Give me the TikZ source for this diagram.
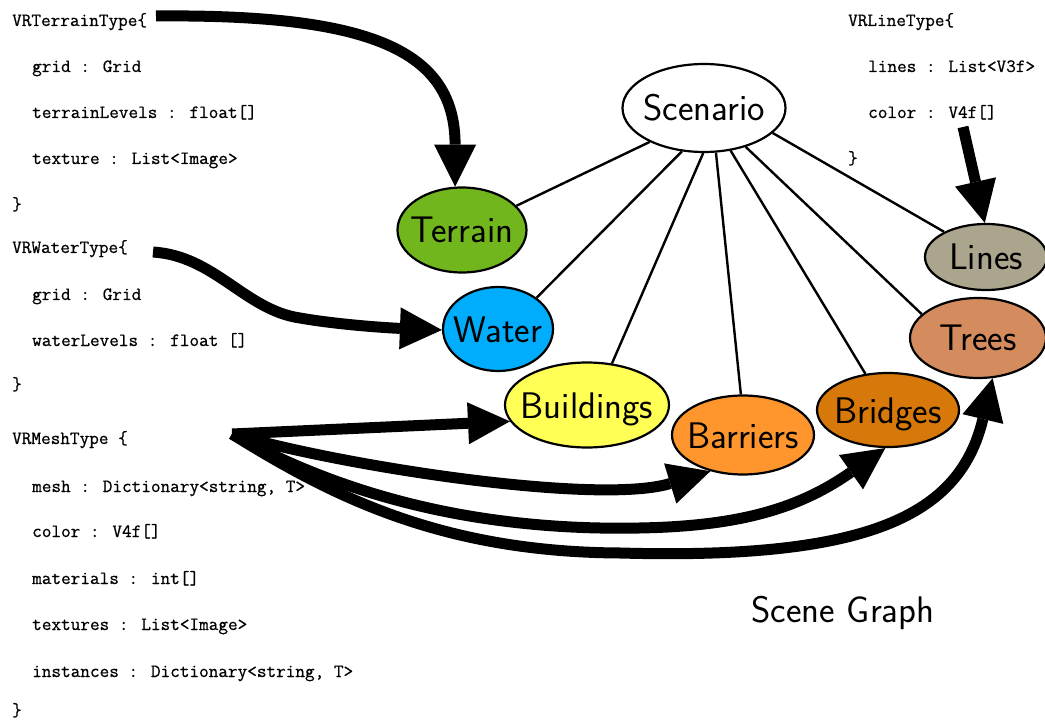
\documentclass[tikz,border=0pt]{standalone}
\usepackage{fontspec}
\newfontfamily\codefont{Latin Modern Mono}[FakeBold=0.7]
\usetikzlibrary{arrows.meta,shapes.geometric}

\definecolor{terraincol}{RGB}{113,182,28}
\definecolor{watercol}{RGB}{0,172,252}
\definecolor{buildcol}{RGB}{255,255,85}
\definecolor{barrcol}{RGB}{255,150,45}
\definecolor{bridgecol}{RGB}{215,120,10}
\definecolor{linescol}{RGB}{170,165,140}
\definecolor{treescol}{RGB}{212,140,95}

\begin{document}
\begin{tikzpicture}[x=1pt,y=-1pt,
  code/.style={anchor=base west, inner sep=0pt,
    font=\codefont\fontsize{18.7}{22}\selectfont},
  obj/.style={ellipse, draw=black, line width=2.2pt,
    inner xsep=-45pt, inner ysep=0pt, text height=26pt, text depth=0pt,
    font=\sffamily\fontsize{37}{40}\selectfont},
  edge/.style={line width=2.4pt},
  bigarrow/.style={line width=11pt,
    -{Triangle[length=42pt,width=42pt,line width=0pt]}}
]
\useasboundingbox[fill=white] (0,0) rectangle (1045,722);

% type declarations
\node[code] (tt0) at (12,26)  {VRTerrainType\{};
\node[code] (tt1) at (32,72)  {grid : Grid};
\node[code] (tt2) at (32,118) {terrainLevels : float[]};
\node[code] (tt3) at (32,164) {texture : List<Image>};
\node[code] (tt4) at (12,210) {\}};

\node[code] (wt0) at (12,253) {VRWaterType\{};
\node[code] (wt1) at (32,300) {grid : Grid};
\node[code] (wt2) at (32,346) {waterLevels : float []};
\node[code] (wt3) at (12,390) {\}};

\node[code] (mt0) at (12,444) {VRMeshType \{};
\node[code] (mt1) at (32,492) {mesh : Dictionary<string, T>};
\node[code] (mt2) at (32,537) {color : V4f[]};
\node[code] (mt3) at (32,584) {materials : int[]};
\node[code] (mt4) at (32,630) {textures : List<Image>};
\node[code] (mt5) at (32,677) {instances : Dictionary<string, T>};
\node[code] (mt6) at (12,716) {\}};

\node[code] (lt0) at (848,26)  {VRLineType\{};
\node[code] (lt1) at (868,72)  {lines : List<V3f>};
\node[code] (lt2) at (868,118) {color : V4f[]};
\node[code] (lt3) at (848,164) {\}};

% scene graph nodes
\node[obj, fill=white,      minimum width=163pt, minimum height=88pt] (scen)  at (704,108) {Scenario};
\node[obj, fill=terraincol, minimum width=129pt, minimum height=85pt] (terr)  at (462,230) {Terrain};
\node[obj, fill=watercol,   minimum width=110pt, minimum height=84pt] (water) at (498,329) {Water};
\node[obj, fill=buildcol,   minimum width=164pt, minimum height=85pt] (build) at (587,405) {Buildings};
\node[obj, fill=barrcol,    minimum width=142pt, minimum height=79pt] (barr)  at (743,435) {Barriers};
\node[obj, fill=bridgecol,  minimum width=142pt, minimum height=74pt] (bridg) at (888,410) {Bridges};
\node[obj, fill=linescol,   minimum width=122pt, minimum height=66pt] (lines) at (986,257) {Lines};
\node[obj, fill=treescol,   minimum width=136pt, minimum height=80pt] (trees) at (978,338) {Trees};

\node[font=\sffamily\fontsize{37}{40}\selectfont, inner sep=0pt] (title) at (843,613) {Scene Graph};

% hierarchy edges
\draw[edge] (scen.212) -- (terr.24);
\draw[edge] (scen.243) -- (water.39);
\draw[edge] (scen.269) -- (build.59);
\draw[edge] (scen.285) -- (barr.93);
\draw[edge] (scen.302) -- (bridg.122);
\draw[edge] (scen.317) -- (trees.157);
\draw[edge] (scen.340) -- (lines.149);

% type-to-node arrows
\coordinate (tstart) at (156,16);
\coordinate (wstart) at (153,252);
\coordinate (mstart) at (232,434);
\coordinate (lstart) at (963,127);

\draw[bigarrow] (tstart) .. controls (370,14) and (455,50) .. (terr.99);
\draw[bigarrow] (wstart) .. controls (215,256) and (245,310) .. (300,318)
  .. controls (340,325) and (390,328) .. (water.181);
\draw[bigarrow] (mstart) -- (build.192);
\draw[bigarrow] (mstart) .. controls (350,468) and (600,505) .. (barr.228);
\draw[bigarrow] (mstart) .. controls (330,488) and (450,525) .. (600,528)
  .. controls (720,530) and (790,515) .. (bridg.266);
\draw[bigarrow] (mstart) .. controls (330,495) and (440,552) .. (620,553)
  .. controls (870,560) and (960,515) .. (trees.290);
\draw[bigarrow] (lstart) -- (lines.92);
\end{tikzpicture}
\end{document}
